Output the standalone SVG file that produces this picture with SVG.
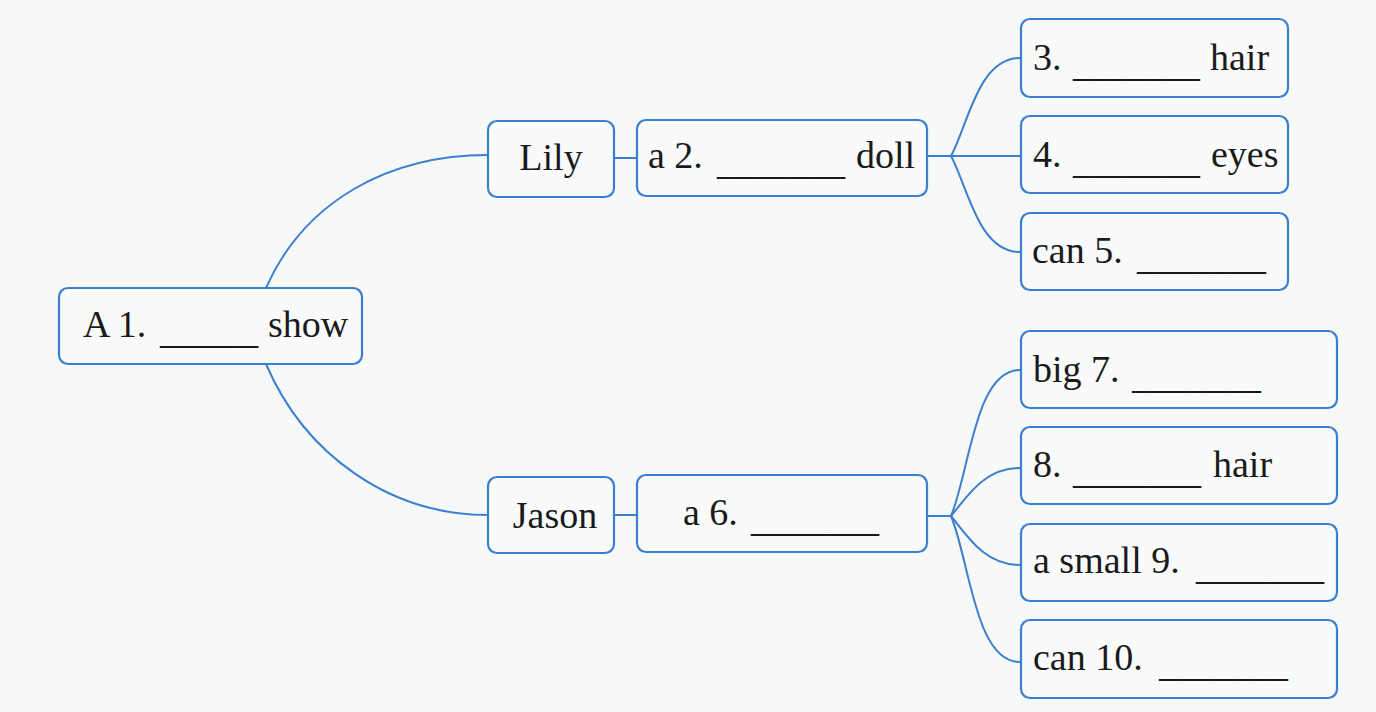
<svg xmlns="http://www.w3.org/2000/svg" width="1376" height="712" viewBox="0 0 1376 712">
<style>
.bg{fill:#f7f8f8}
.box{fill:#f9fafa;stroke:#3b7fd0;stroke-width:2.2}
.con{fill:none;stroke:#3b7fd0;stroke-width:2}
</style>
<rect class="bg" x="0" y="0" width="1376" height="712"/>
<g id="connectors">
<path class="con" d="M266,288 C305,200 390,155 488,155"/>
<path class="con" d="M266,364 C305,455 390,515 488,515"/>
<path class="con" d="M614,158 L636,158"/>
<path class="con" d="M614,515 L636,515"/>
<path class="con" d="M927,156 L951,156"/>
<path class="con" d="M951,156 C968,125 978,58 1020,58"/>
<path class="con" d="M951,156 L1020,156"/>
<path class="con" d="M951,156 C968,187 978,252 1020,252"/>
<path class="con" d="M927,516 L951,516"/>
<path class="con" d="M951,516 C970,470 975,370 1020,370"/>
<path class="con" d="M951,516 C968,495 985,468 1020,468"/>
<path class="con" d="M951,516 C968,537 985,565 1020,565"/>
<path class="con" d="M951,516 C970,562 975,662 1020,662"/>
</g>
<g font-family="Liberation Serif, Times New Roman, serif" font-size="38" fill="#1a1a1a">
<g id="root">
<rect class="box" x="59" y="288" width="303" height="76" rx="9"/>
<text x="83" y="337">A 1.<tspan x="160" dy="6" textLength="98" lengthAdjust="spacingAndGlyphs">_____</tspan><tspan x="268" dy="-6">show</tspan></text>
</g>
<g id="lily">
<rect class="box" x="488" y="121" width="126" height="76" rx="9"/>
<text x="551" y="170" text-anchor="middle">Lily</text>
</g>
<g id="doll">
<rect class="box" x="637" y="120" width="290" height="76" rx="9"/>
<text x="648" y="168">a 2.<tspan x="717" dy="6" textLength="128" lengthAdjust="spacingAndGlyphs">_______</tspan><tspan x="856" dy="-6">doll</tspan></text>
</g>
<g id="hair1">
<rect class="box" x="1021" y="19" width="267" height="78" rx="9"/>
<text x="1033" y="70">3.<tspan x="1073" dy="6" textLength="127" lengthAdjust="spacingAndGlyphs">_______</tspan><tspan x="1210" dy="-6">hair</tspan></text>
</g>
<g id="eyes">
<rect class="box" x="1021" y="116" width="267" height="77" rx="9"/>
<text x="1033" y="167">4.<tspan x="1073" dy="6" textLength="127" lengthAdjust="spacingAndGlyphs">_______</tspan><tspan x="1211" dy="-6">eyes</tspan></text>
</g>
<g id="can5">
<rect class="box" x="1021" y="213" width="267" height="77" rx="9"/>
<text x="1032" y="263">can 5.<tspan x="1137" dy="6" textLength="129" lengthAdjust="spacingAndGlyphs">_______</tspan></text>
</g>
<g id="jason">
<rect class="box" x="488" y="477" width="126" height="76" rx="9"/>
<text x="555" y="528" text-anchor="middle">Jason</text>
</g>
<g id="a6">
<rect class="box" x="637" y="475" width="290" height="77" rx="9"/>
<text x="683" y="525">a 6.<tspan x="751" dy="6" textLength="128" lengthAdjust="spacingAndGlyphs">_______</tspan></text>
</g>
<g id="big7">
<rect class="box" x="1021" y="331" width="316" height="77" rx="9"/>
<text x="1033" y="382">big 7.<tspan x="1132" dy="6" textLength="129" lengthAdjust="spacingAndGlyphs">_______</tspan></text>
</g>
<g id="hair8">
<rect class="box" x="1021" y="427" width="316" height="77" rx="9"/>
<text x="1033" y="477">8.<tspan x="1073" dy="6" textLength="128" lengthAdjust="spacingAndGlyphs">_______</tspan><tspan x="1213" dy="-6">hair</tspan></text>
</g>
<g id="small9">
<rect class="box" x="1021" y="524" width="316" height="77" rx="9"/>
<text x="1033" y="573">a small 9.<tspan x="1196" dy="6" textLength="128" lengthAdjust="spacingAndGlyphs">_______</tspan></text>
</g>
<g id="can10">
<rect class="box" x="1021" y="620" width="316" height="78" rx="9"/>
<text x="1033" y="670">can 10.<tspan x="1159" dy="6" textLength="129" lengthAdjust="spacingAndGlyphs">_______</tspan></text>
</g>
</g>
</svg>
